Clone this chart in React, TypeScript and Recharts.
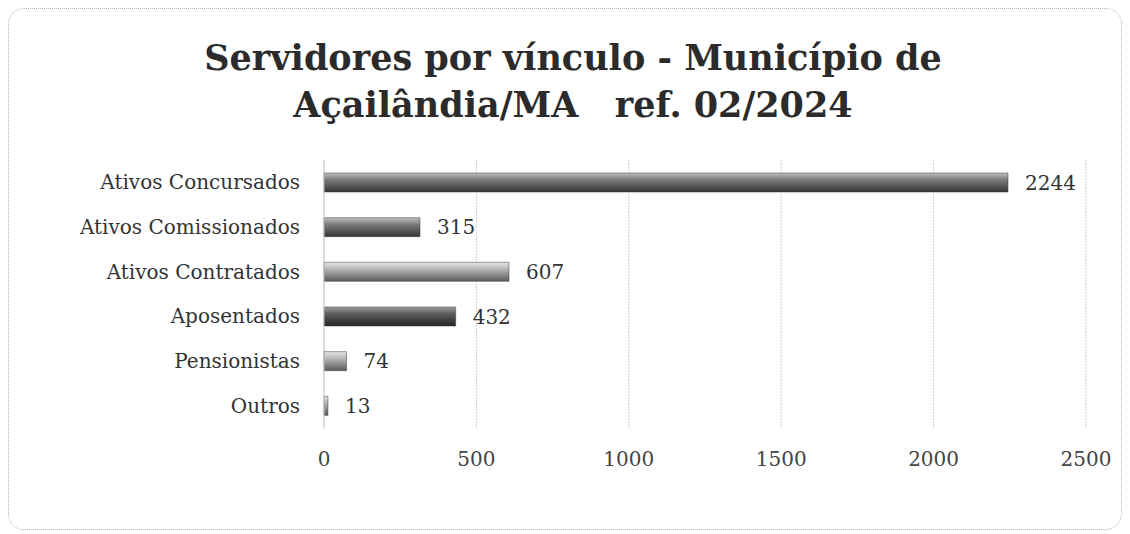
import React from "react";
import { BarChart, Bar, XAxis, YAxis, CartesianGrid, Cell, LabelList } from "recharts";

const categories = ["Ativos Concursados", "Ativos Comissionados", "Ativos Contratados", "Aposentados", "Pensionistas", "Outros"];
const values = [2244, 315, 607, 432, 74, 13];
const shades = ["dark", "dark", "light", "darker", "light", "light"];
const xTicks = [0, 500, 1000, 1500, 2000, 2500];

const data = categories.map((c, i) => ({ name: c, value: values[i], shade: shades[i] }));

const FONT = "'DejaVu Serif', 'Liberation Serif', serif";

export default function App() {
  return (
    <div
      style={{
        position: "relative",
        width: 1114,
        height: 522,
        boxSizing: "border-box",
        border: "1px dotted #b5b5b5",
        borderRadius: 16,
        background: "#fff",
        fontFamily: FONT,
      }}
    >
      <div
        style={{
          position: "absolute",
          left: 0,
          top: 25,
          width: 1128,
          textAlign: "center",
          fontWeight: "bold",
          fontSize: 35,
          lineHeight: "47px",
          color: "#2b2b2b",
          whiteSpace: "pre",
        }}
      >
        {"Servidores por vínculo - Município de\nAçailândia/MA   ref. 02/2024"}
      </div>
      <div style={{ position: "absolute", left: 0, top: 0 }}>
        <BarChart
          width={1112}
          height={520}
          data={data}
          layout="vertical"
          margin={{ top: 151, right: 35, bottom: 41, left: 0 }}
          barSize={19}
        >
          <defs>
            <linearGradient id="gDark" x1="0" y1="0" x2="0" y2="1">
              <stop offset="0%" stopColor="#c0c0c0" />
              <stop offset="35%" stopColor="#7c7c7c" />
              <stop offset="100%" stopColor="#353535" />
            </linearGradient>
            <linearGradient id="gDarker" x1="0" y1="0" x2="0" y2="1">
              <stop offset="0%" stopColor="#a0a0a0" />
              <stop offset="35%" stopColor="#5c5c5c" />
              <stop offset="100%" stopColor="#252525" />
            </linearGradient>
            <linearGradient id="gLight" x1="0" y1="0" x2="0" y2="1">
              <stop offset="0%" stopColor="#e6e6e6" />
              <stop offset="40%" stopColor="#b0b0b0" />
              <stop offset="100%" stopColor="#5a5a5a" />
            </linearGradient>
          </defs>
          <CartesianGrid horizontal={false} stroke="#cfcfcf" strokeDasharray="2 1" />
          <XAxis
            type="number"
            domain={[0, 2500]}
            ticks={xTicks}
            axisLine={false}
            tickLine={false}
            tickSize={0}
            tickMargin={24}
            height={60}
            tick={{ fill: "#444", fontSize: 20, fontFamily: FONT }}
            interval={0}
          />
          <YAxis
            type="category"
            dataKey="name"
            width={315}
            axisLine={{ stroke: "#c8c8c8" }}
            tickLine={false}
            tickSize={0}
            tickMargin={24}
            tick={{ fill: "#333", fontSize: 20, fontFamily: FONT }}
            interval={0}
          />
          <Bar dataKey="value" isAnimationActive={false}>
            {data.map((d, i) => (
              <Cell
                key={i}
                fill={d.shade === "light" ? "url(#gLight)" : d.shade === "darker" ? "url(#gDarker)" : "url(#gDark)"}
                stroke="#3a3a3a"
                strokeWidth={0.5}
              />
            ))}
            <LabelList
              dataKey="value"
              position="right"
              offset={17}
              style={{ fill: "#333", fontSize: 20, fontFamily: FONT }}
            />
          </Bar>
        </BarChart>
      </div>
    </div>
  );
}
